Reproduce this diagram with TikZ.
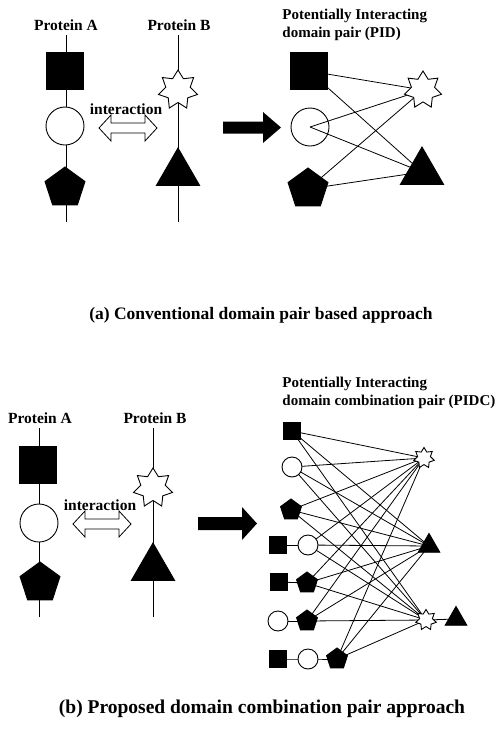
\documentclass[tikz,border=0pt]{standalone}
\usepackage{fontspec}
\setmainfont{Liberation Serif}
\usetikzlibrary{shapes.geometric}
\begin{document}
\begin{tikzpicture}[x=1pt,y=-1pt,line width=0.9pt,
  lbl/.style={font=\bfseries\fontsize{15.5}{17}\selectfont, inner sep=0pt},
  ttl/.style={font=\bfseries\fontsize{15}{18}\selectfont, inner sep=0pt, align=left, anchor=north west},
  captxt/.style={font=\bfseries\fontsize{17.5}{19}\selectfont, inner sep=0pt},
  bsq/.style={rectangle, fill=black, draw=black, minimum size=37pt, inner sep=0pt},
  bcirc/.style={circle, draw=black, fill=white, minimum size=38pt, inner sep=0pt},
  bpent/.style={regular polygon, regular polygon sides=5, fill=black, draw=black, minimum size=42pt, inner sep=0pt},
  bstar/.style={star, star points=7, star point ratio=1.6, draw=black, fill=white, minimum size=40pt, inner sep=0pt},
  btri/.style={regular polygon, regular polygon sides=3, fill=black, draw=black, minimum size=50pt, inner sep=0pt},
  ssq/.style={rectangle, fill=black, draw=black, minimum size=17pt, inner sep=0pt},
  scirc/.style={circle, draw=black, fill=white, minimum size=20pt, inner sep=0pt},
  spent/.style={regular polygon, regular polygon sides=5, fill=black, draw=black, minimum size=22pt, inner sep=0pt},
  sstar/.style={star, star points=7, star point ratio=1.6, draw=black, fill=white, minimum size=21pt, inner sep=0pt},
  stri/.style={regular polygon, regular polygon sides=3, fill=black, draw=black, minimum size=25pt, inner sep=0pt},
  lnk/.style={line width=0.8pt}
]
\useasboundingbox (0,0) rectangle (498,734);

% ================= (a) =================
\node[lbl] (aPA) at (66,25) {Protein A};
\node[lbl] (aPB) at (179,25) {Protein B};
\coordinate (aAtop) at (66,35);
\coordinate (aAbot) at (66,222);
\coordinate (aBtop) at (178,35);
\coordinate (aBbot) at (178,222);
\draw (aAtop) -- (aAbot);
\draw (aBtop) -- (aBbot);
\node[bsq] (aA1) at (65,71) {};
\node[bcirc] (aA2) at (65,126) {};
\node[bpent] (aA3) at (65,188) {};
\node[bstar] (aB1) at (178,90) {};
\node[btri] (aB2) at (178,173) {};
\node[lbl] (aInt) at (126,109) {interaction};
% double arrow
\draw[fill=white,line width=0.8pt] (99,128) -- (111,115) -- (111,123) -- (145,123) -- (145,115) -- (157,128)
  -- (145,141) -- (145,133) -- (111,133) -- (111,141) -- cycle;
% big arrow
\fill (223,121.5) -- (263,121.5) -- (263,112) -- (281,127.5) -- (263,143) -- (263,133.5) -- (223,133.5) -- cycle;

% right graph (a)
\node[ttl] (aTitle) at (282,9) {Potentially Interacting\\domain pair (PID)};
\node[bcirc] (aL2) at (310,127) {};
\coordinate (aL1c) at (309,71);
\coordinate (aL3c) at (308,189);
\coordinate (aR1c) at (423,90);
\coordinate (aR2c) at (422,172);
\foreach \s in {aL1c,aL2.center,aL3c}{
  \foreach \t in {aR1c,aR2c}{
    \draw[lnk] (\s) -- (\t);
  }
}
\node[bsq] (aL1) at (aL1c) {};
\node[bpent] (aL3) at (aL3c) {};
\node[bstar, minimum size=38pt] (aR1) at (aR1c) {};
\node[btri] (aR2) at (aR2c) {};

\node[captxt] (capA) at (261,315) {(a) Conventional domain pair based approach};

% ================= (b) =================
\node[lbl] (bPA) at (40,418) {Protein A};
\node[lbl] (bPB) at (155,418) {Protein B};
\coordinate (bAtop) at (39,428);
\coordinate (bAbot) at (39,617);
\coordinate (bBtop) at (153,428);
\coordinate (bBbot) at (153,617);
\draw (bAtop) -- (bAbot);
\draw (bBtop) -- (bBbot);
\node[bsq] (bA1) at (38,465) {};
\node[bcirc] (bA2) at (39,523) {};
\node[bpent] (bA3) at (40,583) {};
\node[bstar] (bB1) at (153,488) {};
\node[btri] (bB2) at (153,568) {};
\node[lbl] (bInt) at (100,505) {interaction};
\draw[fill=white,line width=0.8pt] (73,524) -- (85,511) -- (85,519) -- (119,519) -- (119,511) -- (131,524)
  -- (119,537) -- (119,529) -- (85,529) -- (85,537) -- cycle;
\fill (198,517) -- (242,517) -- (242,507) -- (257,523.5) -- (242,540) -- (242,530) -- (198,530) -- cycle;

\node[ttl] (bTitle) at (282,377) {Potentially Interacting\\domain combination pair (PIDC)};

% left combinations
\coordinate (r1) at (292,431);
\coordinate (r2) at (292,467);
\coordinate (r3) at (291,510);
\coordinate (r4a) at (278,545);
\coordinate (r4) at (308,545);
\coordinate (r5a) at (279,582);
\coordinate (r5) at (307,583);
\coordinate (r6a) at (278,621);
\coordinate (r6) at (307,621);
\coordinate (r7a) at (278,659);
\coordinate (r7b) at (308,659);
\coordinate (r7) at (337,659);
% right combinations
\coordinate (q1) at (424,458);
\coordinate (q2) at (429,546);
\coordinate (q3) at (426,620);
\coordinate (q3b) at (456,619);

\foreach \s in {r1,r2,r3,r4,r5,r6,r7}{
  \foreach \t in {q1,q2,q3}{
    \draw[lnk] (\s) -- (\t);
  }
}
\draw[lnk] (r4a) -- (r4);
\draw[lnk] (r5a) -- (r5);
\draw[lnk] (r6a) -- (r6);
\draw[lnk] (r7a) -- (r7b) -- (r7);
\draw[lnk] (q3) -- (q3b);

\node[ssq] (n1) at (r1) {};
\node[scirc] (n2) at (r2) {};
\node[spent] (n3) at (r3) {};
\node[ssq] (n4a) at (r4a) {};
\node[scirc] (n4) at (r4) {};
\node[ssq] (n5a) at (r5a) {};
\node[spent] (n5) at (r5) {};
\node[scirc] (n6a) at (r6a) {};
\node[spent] (n6) at (r6) {};
\node[ssq] (n7a) at (r7a) {};
\node[scirc] (n7b) at (r7b) {};
\node[spent] (n7) at (r7) {};
\node[sstar] (m1) at (q1) {};
\node[stri] (m2) at (q2) {};
\node[sstar] (m3) at (q3) {};
\node[stri] (m3b) at (q3b) {};

\node[captxt, font=\bfseries\fontsize{19.5}{21}\selectfont] (capB) at (262,709) {(b) Proposed domain combination pair approach};
\end{tikzpicture}
\end{document}
